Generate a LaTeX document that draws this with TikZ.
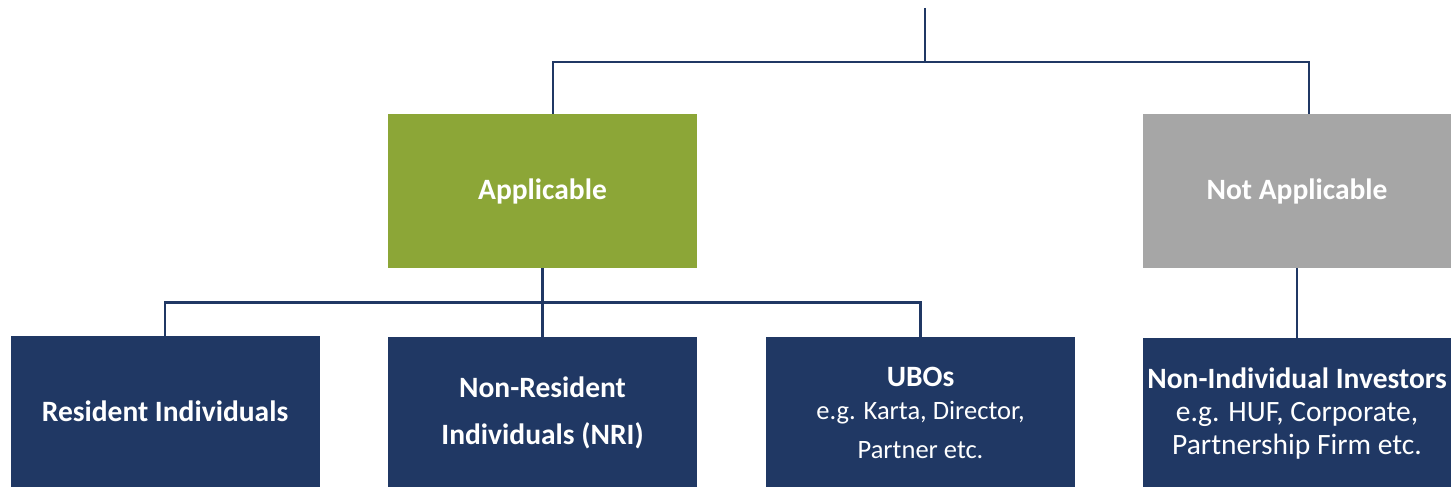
\documentclass[tikz,border=0pt]{standalone}
\usepackage{fontspec}
\setmainfont{Carlito}
\usetikzlibrary{
	positioning,
	calc
}
\definecolor{navy}{HTML}{203864}
\definecolor{leaf}{HTML}{8CA637}
\definecolor{stone}{HTML}{A6A6A6}
\newcommand{\headfont}{\bfseries\fontsize{29.5}{35}\selectfont}
\tikzset{
	box/.style={
		rectangle,
		draw=none,
		text=white,
		align=center,
		inner sep=0pt,
		minimum width=309pt,
		font=\fontsize{26.5}{33}\selectfont
	},
	headbox/.style={
		box,
		minimum height=154pt,
		font=\headfont
	},
	leafbox/.style={
		box,
		fill=navy,
		minimum height=151pt
	},
	link/.style={
		draw=navy,
		line width=2.5pt
	}
}

\begin{document}
\begin{tikzpicture}[x=1pt, y=-1pt]
		\useasboundingbox (0,0) rectangle (1451,487);
		\coordinate (top) at (925,8);
		\coordinate (split) at (925,62);
		\node[headbox, fill=leaf] (app) at (542.5,191) {Applicable};
		\node[headbox, fill=stone, minimum width=308pt] (notapp) at (1297,191) {Not Applicable};
		\node[leafbox, font=\headfont] (resind) at (165,411.5) {Resident Individuals};
		\node[leafbox, font=\headfont] (nri) at (542.5,412.5) {Non-Resident\\[12pt]Individuals (NRI)};
		\node[leafbox] (ubo) at (920.5,412.5) {{\headfont UBOs}\\e.g. Karta, Director,\\[6pt]Partner etc.};
		\node[leafbox, minimum width=308pt, font=\fontsize{29.5}{33}\selectfont] (nonind) at (1297,413.5) {{\headfont Non-Individual Investors}\\e.g. HUF, Corporate,\\Partnership Firm etc.};
		% top level
		\draw[link] (top) -- (split);
		\draw[link] ([xshift=10.5pt]app.north) |- (split) -| ([xshift=12pt]notapp.north);
		% below Applicable
		\draw[link] (app.south) -- (nri.north);
		\draw[link] (resind.north) |- ($(app.south)!0.5!(nri.north)$) -| (ubo.north);
		% below Not Applicable
		\draw[link] (notapp.south) -- (nonind.north);
	\end{tikzpicture}
\end{document}
